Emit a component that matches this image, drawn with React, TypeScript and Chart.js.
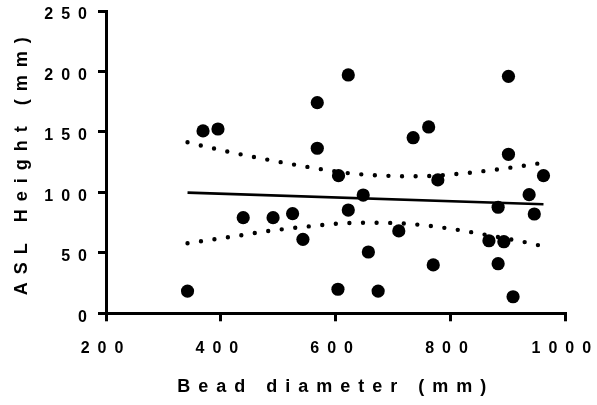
import React, { useEffect, useRef } from 'react';
import { Chart, registerables } from 'chart.js';

Chart.register(...registerables);

// Scatter data (bead diameter in mm, ASL height in mm)
const beadDiameter = [342, 369, 395, 439, 491, 525, 543, 568, 568, 605, 604, 622, 622, 648, 657, 674, 710, 735, 762, 770, 778, 867, 883, 883, 893, 901, 901, 909, 937, 946, 962];
const aslHeight = [18.4, 150.8, 152.4, 79.1, 79.1, 82.4, 61.2, 174.2, 136.5, 113.8, 19.9, 197.1, 85.4, 97.8, 50.7, 18.4, 68.1, 145.2, 154.1, 40.0, 110.3, 60.0, 87.7, 41.0, 59.2, 196.0, 131.5, 13.7, 98.1, 82.1, 113.8];

// Regression line end points
const fitX = [342, 962];
const fitY = [99.8, 90.2];

// Confidence band (dotted)
const upperX = [342, 412, 482, 554, 624, 696, 745, 817, 888, 962];
const upperY = [141.4, 133.7, 127.0, 120.8, 115.8, 113.6, 113.3, 115.5, 119.4, 124.5];
const lowerX = [342, 413, 484, 556, 627, 675, 724, 795, 866, 937, 962];
const lowerY = [57.9, 62.9, 68.1, 72.0, 74.7, 74.9, 74.1, 70.3, 64.5, 58.1, 55.3];

// Axes
const xTicks = [200, 400, 600, 800, 1000];
const yTicks = [0, 50, 100, 150, 200, 250];
const xTitle = 'Bead diameter (mm)';
const yTitle = 'ASL Height (mm)';

const FONT = "'Liberation Sans', Arial, sans-serif";

const pairs = (xs: number[], ys: number[]) => xs.map((x, i) => ({ x, y: ys[i] }));

const letterSpacingPlugin = {
  id: 'letterSpacing',
  beforeUpdate(chart: any) {
    chart.ctx.letterSpacing = '8px';
  },
  beforeDraw(chart: any) {
    chart.ctx.letterSpacing = '8px';
  },
};

export default function App() {
  const ref = useRef<HTMLCanvasElement>(null);

  useEffect(() => {
    document.body.style.margin = '0';
    const grid = {
      display: true,
      drawOnChartArea: false,
      drawTicks: true,
      tickLength: 8,
      lineWidth: 3,
      tickWidth: 3,
      color: '#000',
      tickColor: '#000',
    };
    const border = { display: true, color: '#000', width: 3 };
    const titleFont = { family: FONT, size: 18, weight: 'bold' as const };
    const tickFont = { family: FONT, size: 16, weight: 'bold' as const };

    const chart = new Chart(ref.current!, {
      type: 'scatter',
      data: {
        datasets: [
          {
            type: 'scatter',
            data: pairs(beadDiameter, aslHeight),
            backgroundColor: '#000',
            borderWidth: 0,
            pointRadius: 6.6,
            pointHoverRadius: 6.6,
          },
          {
            type: 'line',
            data: pairs(fitX, fitY),
            borderColor: '#000',
            borderWidth: 2.6,
            pointRadius: 0,
            fill: false,
          },
          {
            type: 'line',
            data: pairs(upperX, upperY),
            borderColor: '#000',
            borderWidth: 4.4,
            borderDash: [0, 13.6],
            borderCapStyle: 'round',
            pointRadius: 0,
            fill: false,
            cubicInterpolationMode: 'monotone',
          },
          {
            type: 'line',
            data: pairs(lowerX, lowerY),
            borderColor: '#000',
            borderWidth: 4.4,
            borderDash: [0, 13.6],
            borderCapStyle: 'round',
            pointRadius: 0,
            fill: false,
            cubicInterpolationMode: 'monotone',
          },
        ] as any,
      },
      options: {
        animation: false,
        responsive: false,
        maintainAspectRatio: false,
        layout: { padding: { left: 0, top: 11, right: 31.7, bottom: 0 } },
        plugins: { legend: { display: false }, tooltip: { enabled: false } },
        scales: {
          x: {
            type: 'linear',
            grid,
            border,
            min: xTicks[0],
            max: xTicks[xTicks.length - 1],
            afterBuildTicks: (s: any) => { s.ticks = xTicks.map((v) => ({ value: v })); },
            ticks: {
              autoSkip: false,
              maxRotation: 0,
              color: '#000',
              padding: 18,
              font: tickFont,
              callback: (v: any) => String(v),
            },
            title: {
              display: true,
              text: xTitle,
              color: '#000',
              font: titleFont,
              padding: { top: 0, bottom: 7 },
            },
            afterFit: (s: any) => {
              s.height = 91.7;
              s.paddingLeft = 0;
              s.paddingRight = 0;
            },
          },
          y: {
            type: 'linear',
            grid,
            border,
            min: yTicks[0],
            max: yTicks[yTicks.length - 1],
            afterBuildTicks: (s: any) => { s.ticks = yTicks.map((v) => ({ value: v })); },
            ticks: {
              autoSkip: false,
              color: '#000',
              padding: 3,
              labelOffset: 4,
              font: tickFont,
              callback: (v: any) => String(v),
            },
            title: {
              display: true,
              text: yTitle,
              color: '#000',
              font: titleFont,
              padding: { top: 11, bottom: 0 },
            },
            afterFit: (s: any) => {
              s.width = 106;
              s.paddingTop = 0;
              s.paddingBottom = 0;
            },
          },
        },
      } as any,
      plugins: [letterSpacingPlugin],
    });
    return () => chart.destroy();
  }, []);

  return (
    <div style={{ width: 597, height: 405 }}>
      <canvas ref={ref} width={597} height={405} style={{ display: 'block' }} />
    </div>
  );
}
